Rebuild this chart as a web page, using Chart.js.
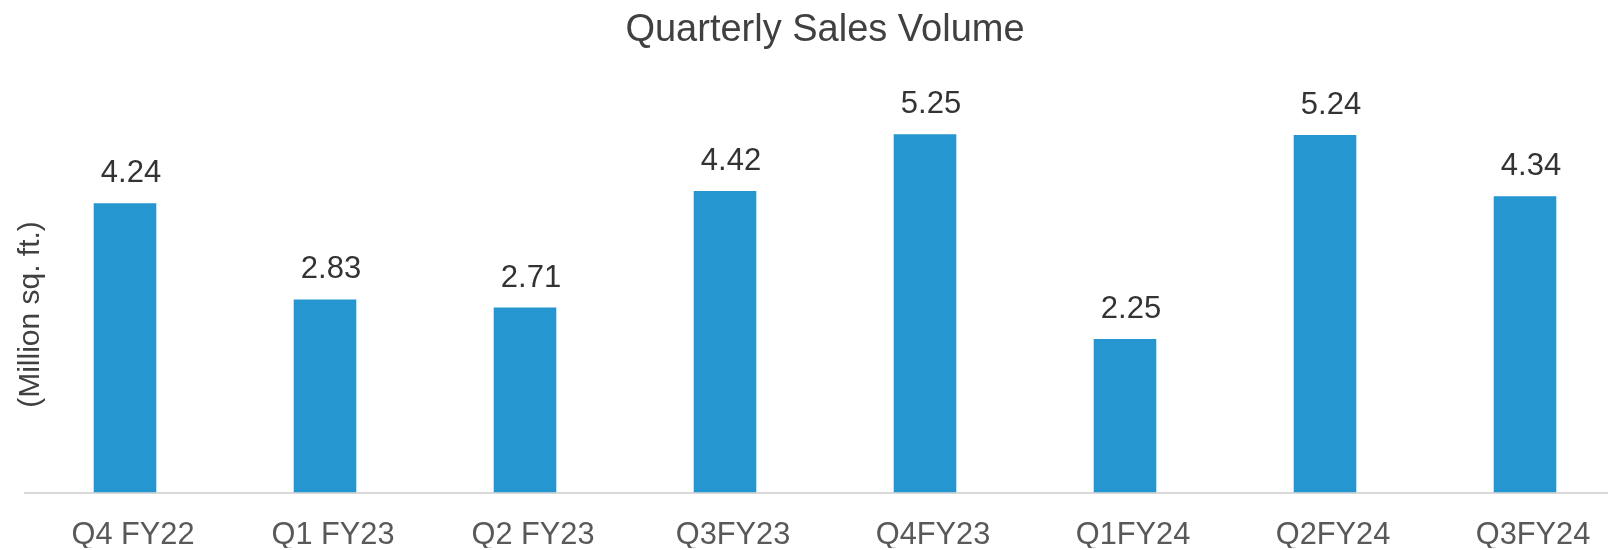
<!DOCTYPE html>
<html>
<head>
<meta charset="utf-8">
<script src="https://cdn.jsdelivr.net/npm/chart.js@4/dist/chart.umd.min.js"></script>
<style>
    html, body { margin: 0; padding: 0; background: #fff; overflow: hidden; }
    canvas { display: block; }
</style>
</head>
<body>
<canvas id="bars" width="1650" height="550"></canvas>
<script>
const quarters = ['Q4 FY22', 'Q1 FY23', 'Q2 FY23', 'Q3FY23', 'Q4FY23', 'Q1FY24', 'Q2FY24', 'Q3FY24']
const salesVolume = [4.24, 2.83, 2.71, 4.42, 5.25, 2.25, 5.24, 4.34]
const chartTitle = 'Quarterly Sales Volume'
const yTitle = '(Million sq. ft.)'

const FONT = '"Liberation Sans", Arial, Helvetica, sans-serif'

// value labels above each bar
const barLabels = {
    id: 'barLabels',
    afterDatasetsDraw(chart) {
        const ctx = chart.ctx
        const meta = chart.getDatasetMeta(0)
        ctx.save()
        ctx.font = '31px ' + FONT
        ctx.fillStyle = '#333333'
        ctx.textAlign = 'center'
        ctx.textBaseline = 'alphabetic'
        meta.data.forEach((bar, i) => {
            ctx.fillText(salesVolume[i].toFixed(2), bar.x + 6, bar.y - 21)
        })
        ctx.restore()
    }
}

// rotated y axis title, sits over the left end of the axis
const yAxisTitle = {
    id: 'yAxisTitle',
    afterDraw(chart) {
        const ctx = chart.ctx
        const area = chart.chartArea
        ctx.save()
        ctx.translate(area.left + 6, area.bottom - 178)
        ctx.rotate(-Math.PI / 2)
        ctx.font = '30px ' + FONT
        ctx.fillStyle = '#404040'
        ctx.textAlign = 'center'
        ctx.textBaseline = 'middle'
        ctx.fillText(yTitle, 0, 0)
        ctx.restore()
    }
}

new Chart(document.getElementById('bars'), {
    type: 'bar',
    data: {
        labels: quarters,
        datasets: [{
            data: salesVolume,
            backgroundColor: '#2596cf',
            categoryPercentage: 1,
            barPercentage: 0.313
        }]
    },
    options: {
        responsive: false,
        animation: false,
        layout: { padding: { left: 25, right: 25, top: 0, bottom: 2 } },
        plugins: {
            legend: { display: false },
            tooltip: { enabled: false },
            title: {
                display: true,
                text: chartTitle,
                color: '#404040',
                font: { family: FONT, size: 38, weight: 'normal', lineHeight: 1.2 },
                padding: { top: 8, bottom: 29.5 }
            }
        },
        scales: {
            x: {
                grid: { display: false, drawTicks: false },
                border: { display: true, color: '#d9d9d9', width: 2 },
                ticks: {
                    color: '#595959',
                    font: { family: FONT, size: 30.75, lineHeight: 1 },
                    padding: 28,
                    labelOffset: 8,
                    maxRotation: 0,
                    autoSkip: false
                },
                afterFit(scale) {
                    scale.height = 55.5
                }
            },
            y: {
                display: false,
                min: 0,
                max: 6
            }
        }
    },
    plugins: [barLabels, yAxisTitle]
})
</script>
</body>
</html>
